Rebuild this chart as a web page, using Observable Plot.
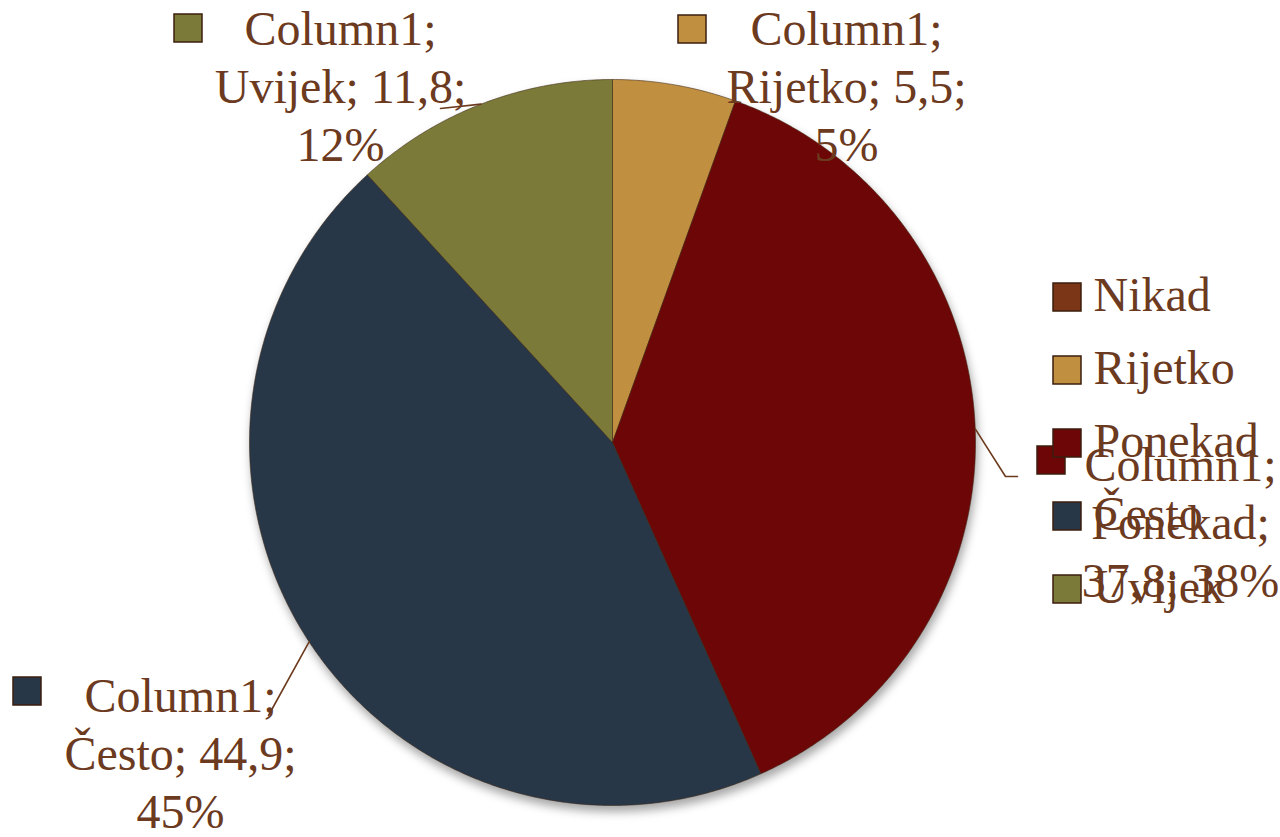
<!DOCTYPE html>
<html>
<head>
<meta charset="utf-8">
<script src="https://cdn.jsdelivr.net/npm/d3@7"></script>
<script src="https://cdn.jsdelivr.net/npm/@observablehq/plot@0.6"></script>
<style>
  html, body { margin: 0; padding: 0; background: #ffffff; overflow: hidden; }
  #chart svg { display: block; }
</style>
</head>
<body>
<div id="chart"></div>
<script>
// ---------- data ----------
const categories = ["Nikad", "Rijetko", "Ponekad", "Često", "Uvijek"];
const values = [0, 5.5, 37.8, 44.9, 11.8];
const valueLabels = ["0", "5,5", "37,8", "44,9", "11,8"];
const percentLabels = ["0%", "5%", "38%", "45%", "12%"];
const seriesName = "Column1";
const colors = ["#7a3616", "#c08f40", "#6d0707", "#283747", "#7b7a38"];

// ---------- layout ----------
const W = 1280, H = 837;
const CX = 612, CY = 442, R = 363;
const FONT = 48, LH = 1.2;
const TEXT = "#6c3a1e";
const FAMILY = "'Liberation Serif', 'DejaVu Serif', serif";
const labelLayout = {
  "Rijetko": {x: 846, y: 160, kx: 678, ky: 15, leader: []},
  "Ponekad": {x: 1180, y: 596, kx: 1037, ky: 446, leader: [[1005, 476], [1017, 476]]},
  "Često":   {x: 180, y: 827, kx: 13, ky: 677, leader: [[268, 715]]},
  "Uvijek":  {x: 340, y: 160, kx: 174, ky: 14, leader: [[440, 108]]}
};
const KEY = 28;
const legendLayout = {x: 1053, textX: 1093, y0: 310, step: 73};

// ---------- derived geometry ----------
const arcs = d3.pie().sort(null).startAngle(0).endAngle(2 * Math.PI)(values);
const px = a => CX + R * Math.sin(a);
const py = a => CY - R * Math.cos(a);

const piePts = [];
arcs.forEach((d, i) => {
  if (values[i] <= 0) return;
  const cat = categories[i];
  piePts.push({cat, x: CX, y: CY});
  const n = Math.max(2, Math.ceil((d.endAngle - d.startAngle) / (Math.PI / 360)));
  for (let k = 0; k <= n; ++k) {
    const a = d.startAngle + (d.endAngle - d.startAngle) * k / n;
    piePts.push({cat, x: px(a), y: py(a)});
  }
  piePts.push({cat, x: CX, y: CY});
});

const labels = [], keys = [], leaders = [];
arcs.forEach((d, i) => {
  const cat = categories[i];
  const L = labelLayout[cat];
  if (!L) return;
  labels.push({
    cat, x: L.x, y: L.y,
    text: `${seriesName};\n${cat}; ${valueLabels[i]};\n${percentLabels[i]}`
  });
  keys.push({cat, x1: L.kx, x2: L.kx + KEY, y1: L.ky, y2: L.ky + KEY});
  if (L.leader.length) {
    const mid = (d.startAngle + d.endAngle) / 2;
    leaders.push({cat, x: px(mid), y: py(mid)});
    L.leader.forEach(([x, y]) => leaders.push({cat, x, y}));
  }
});
// fix Ponekad label text (wraps after "Column1;" and after value)
labels.forEach(l => {
  if (l.cat === "Ponekad") {
    const i = categories.indexOf("Ponekad");
    l.text = `${seriesName};\n${l.cat};\n${valueLabels[i]}; ${percentLabels[i]}`;
  }
});

const legendItems = categories.map((cat, i) => ({
  cat,
  base: legendLayout.y0 + i * legendLayout.step
}));

// ---------- plot ----------
const chart = Plot.plot({
  width: W, height: H,
  margin: 0,
  x: {domain: [0, W], range: [0, W], axis: null},
  y: {domain: [0, H], range: [0, H], axis: null},
  color: {domain: categories, range: colors},
  style: {background: "transparent", overflow: "visible"},
  marks: [
    Plot.line(piePts, {
      x: "x", y: "y", z: "cat", fill: "cat",
      stroke: "#3d2412", strokeWidth: 1, strokeOpacity: 0.55, curve: "linear"
    }),
    Plot.line(leaders, {x: "x", y: "y", z: "cat", stroke: TEXT, strokeWidth: 1.6}),
    Plot.text(labels, {
      x: "x", y: "y", text: "text", fill: TEXT, fontSize: FONT, fontFamily: FAMILY,
      lineAnchor: "bottom", lineHeight: LH, textAnchor: "middle"
    }),
    Plot.rect(keys, {
      x1: "x1", x2: "x2", y1: "y1", y2: "y2", fill: "cat",
      stroke: "#3b1e0e", strokeWidth: 1.5
    }),
    Plot.rect(legendItems, {
      x1: () => legendLayout.x, x2: () => legendLayout.x + KEY,
      y1: d => d.base - 27, y2: d => d.base + 1,
      fill: "cat", stroke: "#3b1e0e", strokeWidth: 1.5
    }),
    Plot.text(legendItems, {
      x: () => legendLayout.textX, y: "base", text: "cat", fill: TEXT,
      fontSize: FONT, fontFamily: FAMILY, lineAnchor: "bottom", textAnchor: "start"
    })
  ]
});

const lineGroups = chart.querySelectorAll('g[aria-label="line"]');
if (lineGroups[0]) lineGroups[0].style.filter = "drop-shadow(2px 6px 5px rgba(0,0,0,0.35))";

document.getElementById("chart").appendChild(chart);
</script>
</body>
</html>
